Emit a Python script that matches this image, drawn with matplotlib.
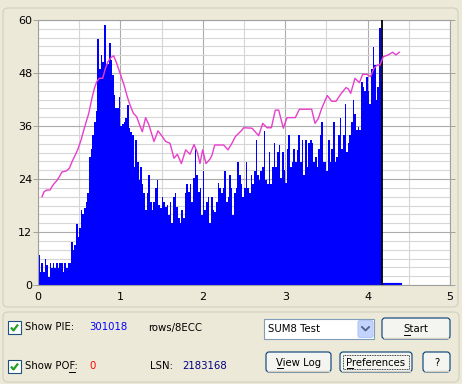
import numpy as np
import matplotlib.pyplot as plt
from matplotlib.patches import FancyBboxPatch, Rectangle

plt.rcParams['font.family'] = ['DejaVu Sans']

# PIE counts per sample (step 0.02 GB)
pie_values = [
    6.8, 3.0, 4.9, 3.0, 6.0, 4.5, 1.9, 4.9, 3.8, 4.9,
    3.8, 4.9, 3.8, 4.9, 4.9, 3.0, 4.9, 3.8, 4.9, 4.9,
    9.8, 8.0, 9.0, 13.7, 10.9, 12.8, 17.0, 16.0, 17.5, 18.8,
    20.8, 29.0, 30.9, 34.0, 37.0, 39.5, 55.8, 49.0, 52.0, 50.6,
    58.9, 50.0, 50.0, 54.7, 50.9, 47.5, 43.0, 40.0, 40.0, 42.5,
    36.0, 36.5, 37.0, 37.7, 40.8, 35.5, 34.7, 33.9, 26.8, 32.8,
    27.9, 23.8, 26.8, 22.8, 20.8, 17.0, 20.8, 24.9, 18.9, 17.0,
    18.9, 21.9, 23.8, 18.1, 17.4, 20.0, 18.9, 17.7, 18.1, 15.9,
    18.9, 14.0, 20.0, 20.8, 17.7, 15.1, 14.0, 17.0, 15.1, 20.8,
    22.8, 21.1, 22.8, 18.9, 24.2, 30.9, 24.9, 21.1, 21.9, 15.9,
    25.8, 17.0, 18.9, 20.0, 14.0, 20.0, 17.0, 16.6, 18.9, 23.0,
    21.9, 20.8, 21.9, 25.8, 18.9, 20.0, 24.9, 21.9, 15.9, 20.8,
    21.9, 27.9, 24.9, 22.8, 20.0, 21.9, 27.9, 21.9, 20.8, 24.9,
    22.8, 25.8, 32.8, 24.9, 23.8, 25.8, 26.8, 34.8, 23.8, 22.8,
    30.1, 22.8, 26.8, 32.1, 26.8, 30.1, 31.7, 24.2, 30.1, 26.0,
    23.0, 30.9, 33.9, 26.8, 27.9, 30.9, 27.9, 30.5, 33.9, 27.9,
    32.8, 24.9, 32.8, 26.8, 32.1, 32.8, 32.1, 27.9, 29.0, 26.8,
    30.9, 33.9, 37.0, 27.9, 27.9, 25.8, 32.8, 27.9, 30.9, 37.0,
    27.9, 29.0, 33.9, 37.7, 30.9, 33.9, 40.9, 30.2, 32.1, 33.9,
    37.0, 41.8, 38.8, 35.0, 35.8, 35.0, 46.0, 44.9, 43.9, 47.2,
    43.9, 40.9, 49.0, 53.9, 49.8, 41.8, 44.9, 58.1, 46.0,
]
pie_step = 0.02
disc_end = 4.18
tail_x = [4.18, 4.39]
tail_y = [0, 0]

# magenta curve
curve_x = [0.049, 0.073, 0.105, 0.146, 0.170, 0.198, 0.227, 0.259, 0.291, 0.34,
           0.38, 0.413, 0.441, 0.481, 0.522, 0.562, 0.615, 0.655, 0.684, 0.712,
           0.744, 0.785, 0.817, 0.85, 0.886, 0.918, 0.947, 0.995, 1.044, 1.084,
           1.116, 1.157, 1.197, 1.226, 1.266, 1.306, 1.347, 1.408, 1.456, 1.509,
           1.549, 1.602, 1.650, 1.691, 1.74, 1.792, 1.845, 1.893, 1.934, 1.966,
           1.998, 2.039, 2.087, 2.112, 2.144, 2.253, 2.306, 2.354, 2.395, 2.476,
           2.496, 2.597, 2.678, 2.727, 2.779, 2.832, 2.880, 2.921, 2.977, 3.022,
           3.123, 3.172, 3.321, 3.362, 3.402, 3.443, 3.511, 3.564, 3.617, 3.673,
           3.738, 3.766, 3.795, 3.847, 3.900, 3.940, 3.989, 4.037, 4.078, 4.118,
           4.150, 4.191, 4.251, 4.304, 4.344, 4.385]
curve_y = [20.0, 21.1, 21.5, 21.5, 22.3, 23.0, 23.6, 24.5, 25.6, 25.8,
           26.4, 27.9, 29.0, 30.6, 32.8, 35.5, 38.8, 42.3, 44.5, 46.0,
           46.8, 46.8, 49.0, 50.6, 51.5, 51.9, 50.6, 48.0, 45.3, 42.6,
           40.8, 38.9, 38.1, 36.6, 34.7, 37.9, 36.2, 32.5, 34.9, 33.6,
           32.5, 32.1, 28.7, 29.6, 27.5, 30.6, 29.6, 31.8, 30.0, 27.5,
           30.6, 27.5, 28.5, 29.4, 31.7, 31.7, 30.6, 32.1, 33.6, 35.1,
           35.6, 35.5, 33.8, 36.6, 35.6, 35.6, 39.6, 39.6, 35.5, 37.9,
           37.9, 39.8, 39.8, 36.6, 37.7, 40.0, 42.9, 41.6, 41.6, 43.2,
           44.7, 44.4, 43.4, 46.8, 45.8, 47.7, 47.7, 47.2, 49.1, 49.8,
           49.8, 51.7, 52.1, 52.7, 52.1, 52.7]

x_ticks = [0, 1, 2, 3, 4, 5]
y_ticks = [0, 12, 24, 36, 48, 60]

pie_total = '301018'
pof_total = '0'
lsn_value = '2183168'
test_name = 'SUM8 Test'

W, H = 462, 384
BG = '#ECE9D8'
fig = plt.figure(figsize=(W / 100, H / 100), dpi=100, facecolor=BG)

# pixel-space overlay for the dialog chrome
ui = fig.add_axes([0, 0, 1, 1], zorder=0)
ui.set_xlim(0, W)
ui.set_ylim(H, 0)
ui.axis('off')


def rbox(x0, y0, x1, y1, fc, ec, r=3, lw=0.8, **kw):
    p = FancyBboxPatch((x0, y0), x1 - x0, y1 - y0,
                       boxstyle='round,pad=0,rounding_size=%s' % r,
                       fc=fc, ec=ec, lw=lw, **kw)
    ui.add_patch(p)
    return p


def checkbox(x, y):
    ui.add_patch(Rectangle((x, y), 13, 13, fc='white', ec='#1C5180', lw=0.8))
    ui.plot([x + 3, x + 5.5, x + 10], [y + 6.5, y + 9.5, y + 3.5],
            color='#21A121', lw=1.6, solid_capstyle='butt')


def button(x0, y0, x1, y1, label, focus=False, ul=None):
    rbox(x0, y0, x1, y1, '#F4F4F0', '#003C74', r=3, lw=0.8)
    ui.plot([x0 + 2, x1 - 2], [y1 - 1.5, y1 - 1.5], color='#D6D0C5', lw=1)
    if focus:
        ui.add_patch(Rectangle((x0 + 3, y0 + 3), x1 - x0 - 6, y1 - y0 - 6,
                               fc='none', ec='black', lw=0.6, ls=(0, (1, 1))))
    ui.text((x0 + x1) / 2, (y0 + y1) / 2 + 0.5, label, ha='center', va='center',
            fontsize=7.3, color='black')
    if ul:
        ui.plot(ul, [(y0 + y1) / 2 + 6] * 2, color='black', lw=0.7)


# group boxes
rbox(3, 8, 458, 307, 'none', '#D0D0BF', r=5)
rbox(3, 312, 459, 382, 'none', '#D0D0BF', r=5)

# bottom panel
checkbox(8, 321)
ui.text(25, 327.5, 'Show PIE:', va='center', fontsize=7.3)
ui.text(89, 327.5, pie_total, va='center', fontsize=7.3, color='#0000FF')
ui.text(148, 327.5, 'rows/8ECC', va='center', fontsize=7.3)
checkbox(8, 360)
ui.text(25, 366, 'Show POF:', va='center', fontsize=7.3)
ui.plot([69, 75], [372, 372], color='black', lw=0.7)
ui.text(89, 366, pof_total, va='center', fontsize=7.3, color='#FF0000')
ui.text(150, 366, 'LSN:', va='center', fontsize=7.3)
ui.text(182, 366, lsn_value, va='center', fontsize=7.3, color='#000080')

# combo box
ui.add_patch(Rectangle((264, 319), 110, 20, fc='white', ec='#7F9DB9', lw=0.8))
ui.text(268, 329.5, test_name, va='center', fontsize=7.3)
rbox(358, 320.5, 373, 337.5, '#C3D3FD', '#B3C8F5', r=2, lw=0.8)
ui.plot([362, 365.5, 369], [327, 330.5, 327], color='#4D6185', lw=1.3)

button(382, 318, 450, 339, 'Start', ul=[404, 410])
button(266, 352, 331, 372, 'View Log', ul=[277, 283])
button(340, 352, 412, 372, 'Preferences', focus=True, ul=[347, 353])
button(423, 352, 450, 372, '?')

# chart
ax = fig.add_axes([38 / W, 1 - 285 / H, 412 / W, 265 / H], zorder=1)
ax.set_facecolor('white')
edges = np.arange(len(pie_values) + 1) * pie_step
ax.fill_between(edges, np.append(pie_values, pie_values[-1]), step='post',
                color='#0000FF', lw=0, zorder=2)
ax.plot(tail_x, tail_y, color='#0000FF', lw=3, zorder=2)
ax.axvline(disc_end, color='black', lw=1.3, zorder=3)
ax.plot(curve_x, curve_y, color='#E83ECB', lw=1.0, zorder=4)

ax.set_xlim(0, 5)
ax.set_ylim(0, 60)
ax.set_xticks(x_ticks)
ax.set_xticks(np.arange(0.5, 5, 1), minor=True)
ax.set_yticks(y_ticks)
ax.set_yticks(np.arange(2, 60, 2), minor=True)
ax.grid(which='major', color='#ABABAB', lw=0.8)
ax.grid(which='minor', color='#D6D6D6', lw=0.8)
ax.set_axisbelow(True)
ax.tick_params(axis='y', which='major', direction='out', length=3.6, width=0.7,
               color='#A0A0A0', left=True, right=True, labelsize=8, pad=0.5)
ax.tick_params(axis='x', which='major', length=0, labelsize=8, pad=5)
ax.tick_params(which='minor', length=0)
for s in ax.spines.values():
    s.set_color('#A0A0A0')
    s.set_linewidth(0.8)

fig.savefig('out.png', dpi=100, facecolor=BG)
